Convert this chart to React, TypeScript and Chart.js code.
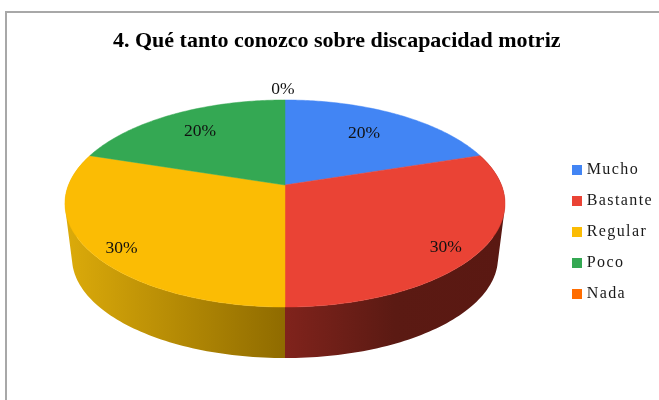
import React, { useEffect, useRef } from "react";
import { Chart, registerables } from "chart.js";

Chart.register(...registerables);

const titleText = "4. Qué tanto conozco sobre discapacidad motriz";
const categories = ["Mucho", "Bastante", "Regular", "Poco", "Nada"];
const values = [20, 30, 30, 20, 0];
const colors = ["#4285f4", "#ea4335", "#fbbc04", "#34a853", "#ff6d01"];

const SERIF = "'Liberation Serif', serif";
const TILT_X = 1.968;
const TILT_Y = 0.911;
const PERSP = -0.1787;
const WALL_SCALE = 0.968;
const WALL_DROP = 55;
const LEGEND_SPACING = "1.4px";
const LEGEND_SHIFT_Y = 78;
const TITLE_SHIFT_X = 0.5;

const wallStops: Record<number, [number, string][]> = {
  1: [[0, "#80231c"], [0.5, "#5b1a13"], [1, "#5a1812"]],
  2: [[0, "#dcab0a"], [1, "#8f6b00"]],
};
const labelPlace = [
  { r: 0.672, dx: 1, dy: -2 },
  { r: 0.833, dx: 1, dy: 9 },
  { r: 0.85, dx: 0, dy: 8 },
  { r: 0.73, dx: -1, dy: 0 },
  { r: 1, dx: -2, dy: -11 },
];

const project = (cx: number, cy: number, R: number, a: number, r = 1) => {
  const X = Math.cos(a), Y = Math.sin(a);
  const w = 1 + PERSP * r * Y;
  return [cx + (TILT_X * R * r * X) / w, cy + (TILT_Y * R * r * Y) / w];
};

const pie3d = {
  id: "pie3d",
  beforeLayout(chart: any) {
    chart.ctx.letterSpacing = LEGEND_SPACING;
  },
  afterLayout(chart: any) {
    chart.ctx.letterSpacing = "0px";
    chart.legend.top += LEGEND_SHIFT_Y;
    chart.legend.bottom += LEGEND_SHIFT_Y;
    chart.titleBlock.left += TITLE_SHIFT_X;
    chart.titleBlock.right += TITLE_SHIFT_X;
  },
  beforeDraw(chart: any) {
    const legend = chart.legend;
    if (legend && !legend.__wrapped) {
      const orig = legend.draw;
      legend.draw = function (...args: any[]) {
        chart.ctx.letterSpacing = LEGEND_SPACING;
        orig.apply(this, args);
        chart.ctx.letterSpacing = "0px";
      };
      legend.__wrapped = true;
    }
  },
  beforeDatasetDraw(chart: any) {
    const ctx: CanvasRenderingContext2D = chart.ctx;
    const arcs = chart.getDatasetMeta(0).data;
    const rim = (el: any) => {
      const pts: number[][] = [];
      const n = 90;
      for (let i = 0; i <= n; i++) {
        const a = el.startAngle + ((el.endAngle - el.startAngle) * i) / n;
        pts.push(project(el.x, el.y, el.outerRadius, a));
      }
      return pts;
    };
    const addPoly = (pts: number[][]) => {
      pts.forEach(([x, y], i) => (i ? ctx.lineTo(x, y) : ctx.moveTo(x, y)));
      ctx.closePath();
    };
    const area = (p: number[][]) =>
      p.reduce((s, a, i) => {
        const b = p[(i + 1) % p.length];
        return s + a[0] * b[1] - b[0] * a[1];
      }, 0);
    ctx.save();
    arcs.forEach((el: any, i: number) => {
      const stops = wallStops[i];
      if (!stops || el.endAngle <= el.startAngle) return;
      const top = rim(el);
      const low = top.map(([x, y]) => [
        el.x + (x - el.x) * WALL_SCALE,
        el.y + (y - el.y) * WALL_SCALE + WALL_DROP,
      ]);
      const xs = top.map((p) => p[0]);
      const g = ctx.createLinearGradient(Math.min(...xs), 0, Math.max(...xs), 0);
      stops.forEach(([o, c]) => g.addColorStop(o, c));
      ctx.fillStyle = g;
      ctx.beginPath();
      for (let k = 0; k < top.length - 1; k++) {
        const quad = [top[k], top[k + 1], low[k + 1], low[k]];
        addPoly(area(quad) < 0 ? quad.reverse() : quad);
      }
      ctx.fill("nonzero");
    });
    arcs.forEach((el: any, i: number) => {
      if (el.endAngle <= el.startAngle) return;
      ctx.beginPath();
      addPoly([[el.x, el.y], ...rim(el)]);
      ctx.fillStyle = colors[i];
      ctx.strokeStyle = colors[i];
      ctx.lineWidth = 0.5;
      ctx.fill();
      ctx.stroke();
    });
    ctx.fillStyle = "#111";
    ctx.font = `17.5px ${SERIF}`;
    ctx.textAlign = "center";
    ctx.textBaseline = "middle";
    const total = values.reduce((s, v) => s + v, 0);
    arcs.forEach((el: any, i: number) => {
      const place = labelPlace[i];
      const mid = (el.startAngle + el.endAngle) / 2;
      const [x, y] = project(el.x, el.y, el.outerRadius, mid, place.r);
      ctx.fillText(`${Math.round((values[i] / total) * 100)}%`, x + place.dx, y + place.dy);
    });
    ctx.restore();
    return false;
  },
};

const makeSwatch = (color: string) => {
  const c = document.createElement("canvas");
  c.width = 10;
  c.height = 10;
  const g = c.getContext("2d")!;
  g.fillStyle = color;
  g.fillRect(0, 0, 10, 10);
  return c;
};

export default function App() {
  const ref = useRef<HTMLCanvasElement>(null);
  useEffect(() => {
    const chart = new Chart(ref.current!, {
      type: "pie",
      data: {
        labels: categories,
        datasets: [{ data: values, backgroundColor: colors, borderWidth: 0 }],
      },
      plugins: [pie3d],
      options: {
        responsive: false,
        animation: false,
        layout: { padding: { left: 2.5, right: 4, top: 0, bottom: 105 } },
        plugins: {
          tooltip: { enabled: false },
          title: {
            display: true,
            text: titleText,
            color: "#000",
            font: { family: SERIF, size: 22, weight: "bold", lineHeight: 1.2 },
            padding: { top: 15, bottom: 20.6 },
          },
          legend: {
            position: "right",
            labels: {
              color: "#1a1a1a",
              font: { family: SERIF, size: 16, lineHeight: 1.2 },
              usePointStyle: true,
              pointStyleWidth: 3.25,
              boxHeight: 10,
              padding: 15,
              generateLabels: (c: any) =>
                (Chart as any).overrides.pie.plugins.legend.labels
                  .generateLabels(c)
                  .map((l: any, i: number) => ({ ...l, pointStyle: makeSwatch(colors[i]), hidden: false })),
            },
          },
        },
      },
    } as any);
    return () => chart.destroy();
  }, []);
  return (
    <div style={{ position: "fixed", inset: 0, overflow: "hidden", background: "#fff" }}>
      <div
        style={{
          position: "absolute",
          left: 5,
          top: 11,
          width: 700,
          height: 500,
          borderLeft: "2px solid #a8a8a8",
          borderTop: "2px solid #a8a8a8",
        }}
      />
      <canvas
        ref={ref}
        width={660}
        height={387}
        style={{ position: "absolute", left: 7, top: 13, display: "block" }}
      />
    </div>
  );
}
